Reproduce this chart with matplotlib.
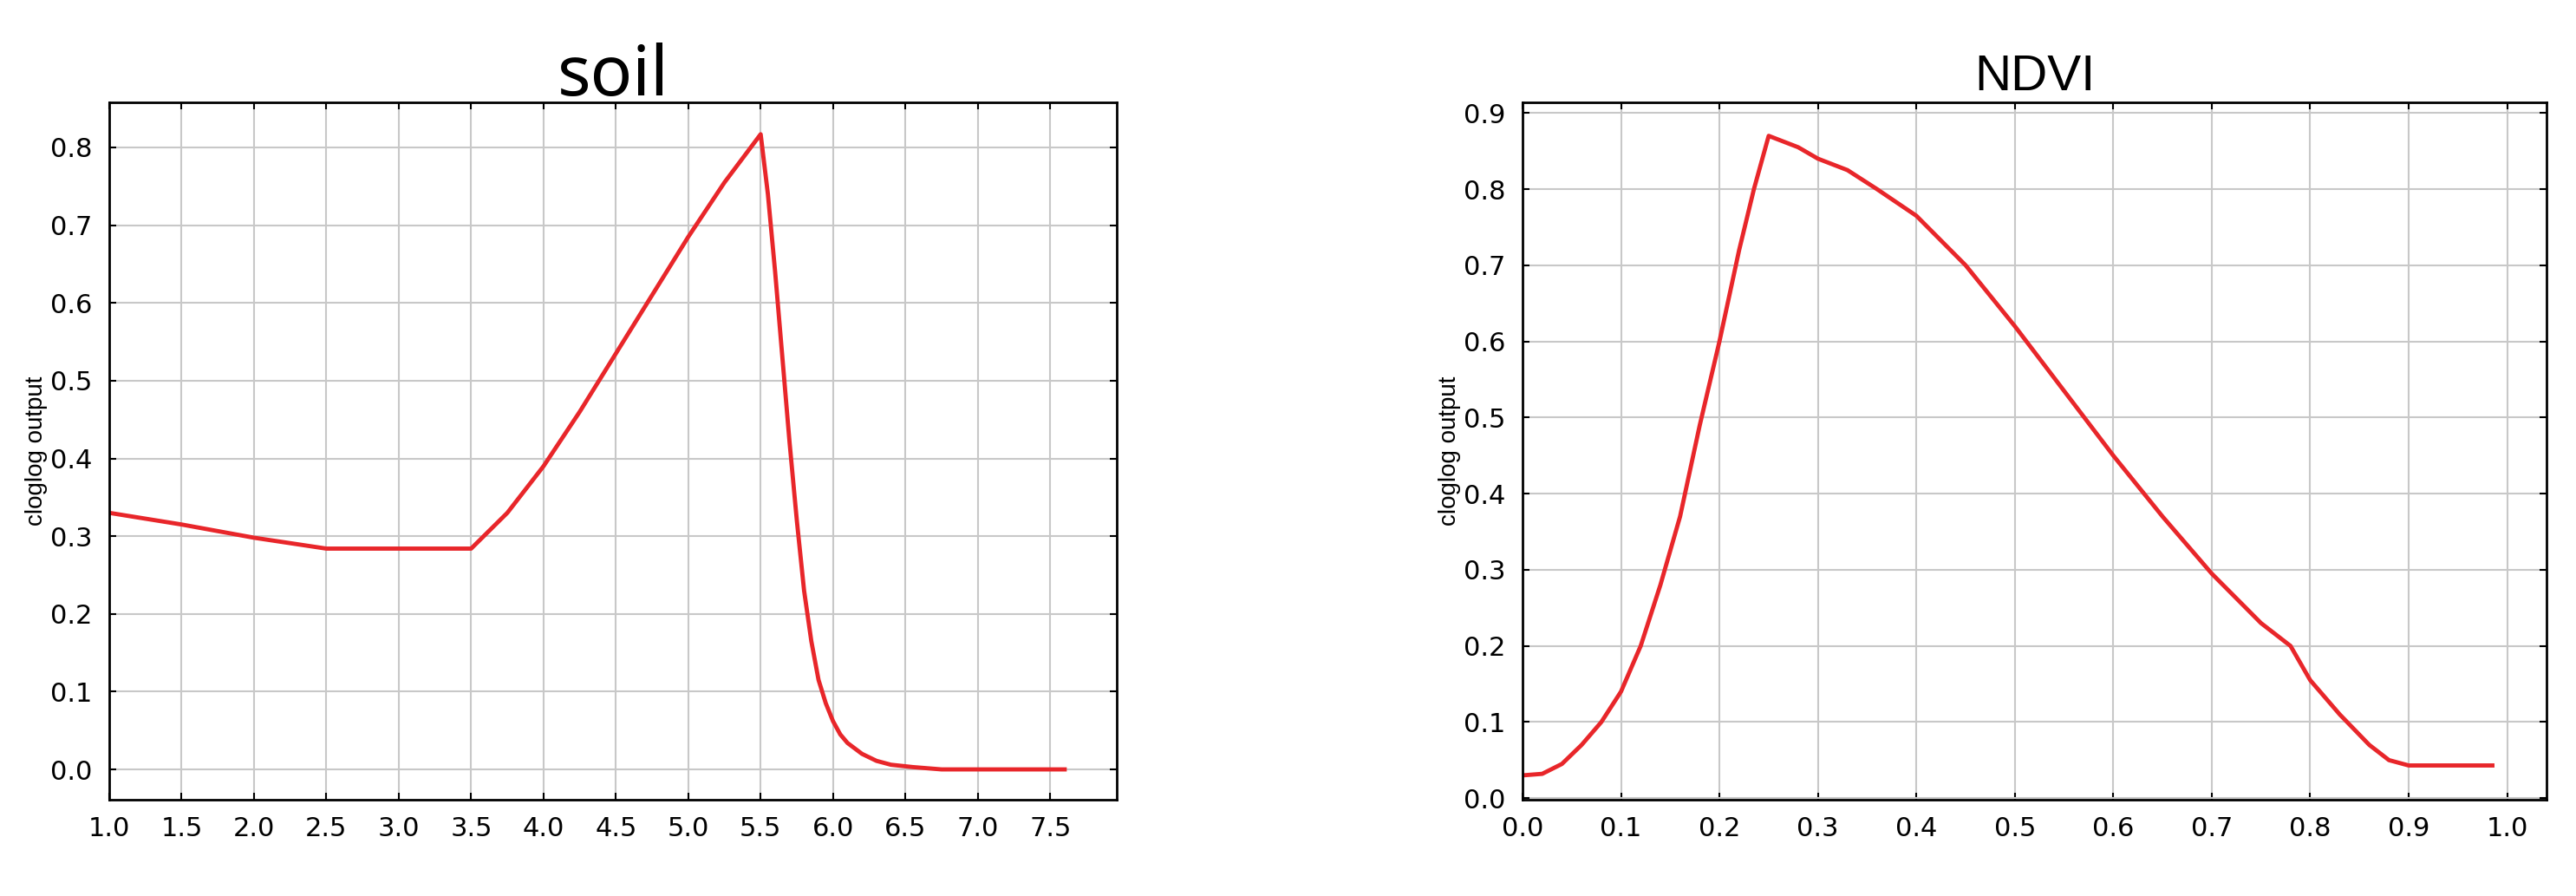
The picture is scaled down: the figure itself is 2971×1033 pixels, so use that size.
import numpy as np
import matplotlib
matplotlib.use("Agg")
import matplotlib.pyplot as plt

# soil response curve
soil_x = [1.0, 1.5, 2.0, 2.5, 3.5, 3.75, 4.0, 4.25, 4.5, 4.75, 5.0, 5.25, 5.5,
          5.55, 5.6, 5.65, 5.7, 5.75, 5.8, 5.85, 5.9, 5.95, 6.0, 6.05, 6.1, 6.2, 6.3,
          6.4, 6.55, 6.75, 7.6]
soil_y = [0.33, 0.315, 0.298, 0.284, 0.284, 0.33, 0.39, 0.46, 0.535, 0.61, 0.685, 0.755, 0.817,
          0.74, 0.64, 0.53, 0.42, 0.32, 0.23, 0.165, 0.115, 0.085, 0.062, 0.045, 0.034, 0.02, 0.011,
          0.006, 0.003, 0.0, 0.0]

# NDVI response curve
ndvi_x = [0.0, 0.02, 0.04, 0.06, 0.08, 0.1, 0.12, 0.14, 0.16, 0.18, 0.2, 0.22, 0.235, 0.25,
          0.28, 0.3, 0.33, 0.36, 0.4, 0.45, 0.5, 0.55, 0.6, 0.65, 0.7, 0.75, 0.78, 0.8,
          0.83, 0.86, 0.88, 0.9, 0.985]
ndvi_y = [0.03, 0.032, 0.045, 0.07, 0.1, 0.14, 0.2, 0.28, 0.37, 0.49, 0.6, 0.72, 0.8, 0.87,
          0.855, 0.84, 0.825, 0.8, 0.765, 0.7, 0.62, 0.535, 0.45, 0.37, 0.295, 0.23, 0.2, 0.155,
          0.11, 0.07, 0.05, 0.043, 0.043]

plt.rcParams['font.family'] = ['Liberation Sans Narrow', 'DejaVu Sans']

fig = plt.figure(figsize=(29.71, 10.33), dpi=100)
ax1 = fig.add_axes([126/2971, 1-922/1033, (1288-126)/2971, (922-118)/1033])
ax2 = fig.add_axes([1756/2971, 1-922/1033, (2937-1756)/2971, (922-118)/1033])

def style(ax):
    ax.grid(True, color='#c8c8c8', lw=1.5)
    ax.set_axisbelow(True)
    ax.tick_params(direction='in', length=6, width=1.5, labelsize=22,
                   top=True, right=True, pad=14)
    for s in ax.spines.values():
        s.set_linewidth(2)
    ax.set_ylabel('cloglog output', fontsize=20, family='Liberation Sans', labelpad=2)

ax1.plot(soil_x, soil_y, color='#e8262a', lw=3.5)
ax1.set_xlim(1.0, 7.96)
ax1.set_ylim(-0.039, 0.858)
ax1.set_xticks(np.arange(1.0, 7.51, 0.5))
ax1.set_yticks(np.arange(0, 0.81, 0.1))
ax1.xaxis.set_major_formatter('{x:.1f}')
ax1.yaxis.set_major_formatter('{x:.1f}')
style(ax1)
ax1.set_title('soil', fontsize=58, family='Noto Sans', fontweight='medium', pad=6)

ax2.plot(ndvi_x, ndvi_y, color='#e8262a', lw=3.5)
ax2.set_xlim(0.0, 1.04)
ax2.set_ylim(-0.002, 0.914)
ax2.set_xticks(np.arange(0, 1.01, 0.1))
ax2.set_yticks(np.arange(0, 0.91, 0.1))
ax2.xaxis.set_major_formatter('{x:.1f}')
ax2.yaxis.set_major_formatter('{x:.1f}')
style(ax2)
ax2.set_title('NDVI', fontsize=42, family='Liberation Sans', pad=10)

fig.savefig('out.png', dpi=100)
